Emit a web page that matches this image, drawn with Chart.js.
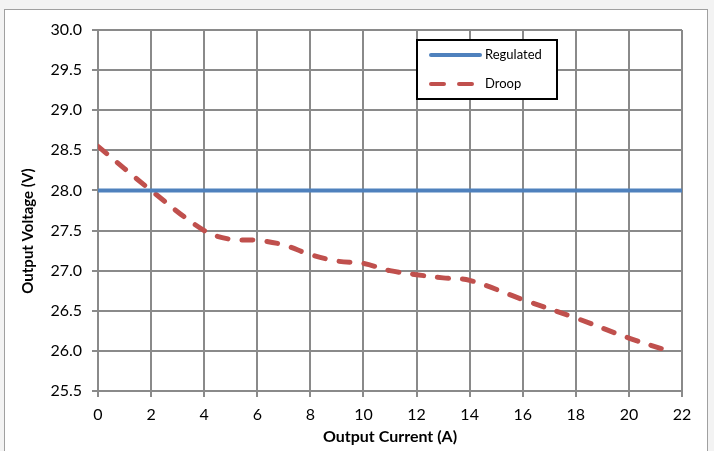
<!DOCTYPE html>
<html>
<head>
<meta charset="utf-8">
<script src="https://cdn.jsdelivr.net/npm/chart.js@4"></script>
<style>
  html, body { margin: 0; padding: 0; background: #f3f3f3; }
  #wrap { position: relative; width: 714px; height: 451px; }
</style>
</head>
<body>
<div id="wrap"><canvas id="myChart" width="714" height="451"></canvas></div>
<script>
// values
var current = [0, 2, 4, 5, 6, 7, 8, 9, 10, 11, 12, 13, 14, 16, 18, 20, 21.5];
var droop = [28.55, 28.0, 27.5, 27.39, 27.38, 27.32, 27.2, 27.12, 27.09, 27.0, 26.95, 26.91, 26.88, 26.64, 26.41, 26.16, 26.0];
var regCurrent = [0, 22];
var regulated = [28.0, 28.0];
var xTicks = [0, 2, 4, 6, 8, 10, 12, 14, 16, 18, 20, 22];
var yTicks = [25.5, 26.0, 26.5, 27.0, 27.5, 28.0, 28.5, 29.0, 29.5, 30.0];

var FONT = 'Lato, "Open Sans", sans-serif';
var GRID = '#8a8a8a';

function pts(xs, ys) {
    return xs.map(function (x, i) { return { x: x, y: ys[i] }; });
}

// frame, y title and boxed legend
const decor = {
    id: 'decor',
    beforeDraw: function (chart) {
        const c = chart.ctx;
        c.save();
        c.fillStyle = '#f3f3f3';
        c.fillRect(0, 0, chart.width, chart.height);
        c.fillStyle = '#ffffff';
        c.fillRect(4, 9, 704, 450);
        c.strokeStyle = '#a0a0a0';
        c.lineWidth = 1;
        c.strokeRect(4.5, 9.5, 703, 450);
        c.restore();
    },
    afterDraw: function (chart) {
        const c = chart.ctx;
        c.save();
        // y axis title
        c.translate(28, 231);
        c.rotate(-Math.PI / 2);
        c.font = 'bold 15px ' + FONT;
        c.fillStyle = '#000';
        c.textAlign = 'center';
        c.textBaseline = 'middle';
        c.fillText('Output Voltage (V)', 0, 0);
        c.restore();

        // legend
        c.save();
        c.fillStyle = '#fff';
        c.fillRect(417, 40, 140, 59);
        c.strokeStyle = '#000';
        c.lineWidth = 2;
        c.strokeRect(417, 40, 140, 59);
        chart.data.datasets.forEach(function (ds, i) {
            const y = 55 + i * 29;
            c.strokeStyle = ds.borderColor;
            c.lineWidth = 4;
            c.lineCap = 'round';
            c.setLineDash(ds.borderDash ? [13, 15] : []);
            c.beginPath();
            c.moveTo(431, y);
            c.lineTo(480, y);
            c.stroke();
            c.setLineDash([]);
            c.fillStyle = '#000';
            c.font = '13px ' + FONT;
            c.textBaseline = 'middle';
            c.fillText(ds.label, 485, y);
        });
        c.restore();
    }
};

const config = {
    type: 'line',
    data: {
        datasets: [{
            label: 'Regulated',
            data: pts(regCurrent, regulated),
            borderColor: '#4f81bd',
            borderWidth: 4,
            pointRadius: 0,
            tension: 0
        }, {
            label: 'Droop',
            data: pts(current, droop),
            borderColor: '#c0504d',
            borderWidth: 5,
            borderDash: [11, 14],
            borderCapStyle: 'round',
            pointRadius: 0,
            tension: 0.35
        }]
    },
    options: {
        responsive: false,
        animation: false,
        layout: { padding: { left: 0, top: 30, right: 32, bottom: 0 } },
        plugins: {
            legend: { display: false },
            tooltip: { enabled: false }
        },
        scales: {
            x: {
                type: 'linear',
                min: 0,
                max: 22,
                afterBuildTicks: function (s) { s.ticks = xTicks.map(function (v) { return { value: v }; }); },
                afterFit: function (s) { s.height = 60; },
                grid: { color: GRID, lineWidth: 2, tickLength: 6 },
                border: { color: GRID, width: 2 },
                ticks: { color: '#000', font: { family: FONT, size: 16 }, padding: 8, maxRotation: 0 },
                title: {
                    display: true,
                    text: 'Output Current (A)',
                    color: '#000',
                    font: { family: FONT, size: 16, weight: 'bold' },
                    padding: { top: 0, bottom: 5 }
                }
            },
            y: {
                min: 25.5,
                max: 30,
                afterBuildTicks: function (s) { s.ticks = yTicks.map(function (v) { return { value: v }; }); },
                afterFit: function (s) { s.width = 98; },
                grid: { color: GRID, lineWidth: 2, tickLength: 6 },
                border: { color: GRID, width: 2 },
                ticks: {
                    color: '#000',
                    font: { family: FONT, size: 16 },
                    padding: 10,
                    callback: function (v) { return Number(v).toFixed(1); }
                }
            }
        }
    },
    plugins: [decor]
};

const myChart = new Chart(document.getElementById('myChart'), config);
</script>
</body>
</html>
